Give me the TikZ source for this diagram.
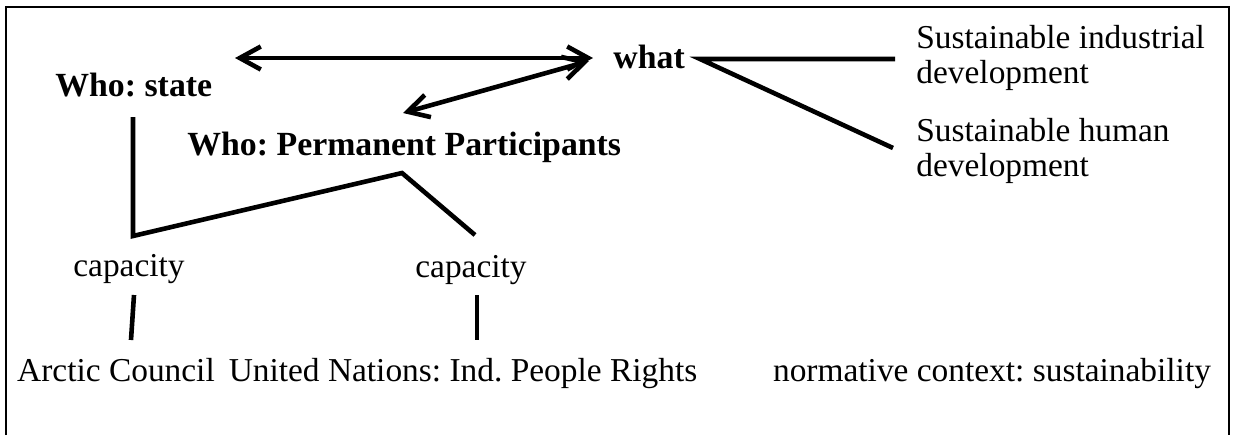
\documentclass[tikz,border=0pt]{standalone}
\usepackage{fontspec}
\setmainfont{Liberation Serif}
\usetikzlibrary{arrows.meta}
\frenchspacing

\begin{document}
\begin{tikzpicture}[x=0.5pt, y=-0.5pt,
    lbl/.style={inner sep=0pt, font=\fontsize{16.7}{17.5}\selectfont},
    hd/.style={inner sep=0pt, font=\fontsize{16.9}{17.5}\selectfont\bfseries},
    link/.style={line width=2.3pt, line join=miter},
    dbl/.style={link, {Straight Barb[length=10.5pt,width=11.5pt]}-{Straight Barb[length=10.5pt,width=11.5pt]}}]
    \useasboundingbox (0,0) rectangle (1233,435);
    \draw[line width=1pt] (6,435) -- (6,7) -- (1229,7) -- (1229,435);
    % who / what
    \node[hd, anchor=base west] (state) at (55,96) {Who: state};
    \node[hd, anchor=base west] (what) at (613,68) {what};
    \node[hd, anchor=base west] (pp) at (187,155) {Who: Permanent Participants};
    \node[lbl, anchor=base west, align=left] (ind) at (916,83) {Sustainable industrial\\development};
    \node[lbl, anchor=base west, align=left] (hum) at (916,176) {Sustainable human\\development};
    % capacity and context
    \node[lbl, anchor=base] (cap1) at (129,276) {capacity};
    \node[lbl, anchor=base] (cap2) at (471,277) {capacity};
    \node[lbl, anchor=base] (arctic) at (116,381) {Arctic Council};
    \node[lbl, anchor=base] (un) at (463,381) {United Nations: Ind. People Rights};
    \node[lbl, anchor=base] (norm) at (992,381) {normative context: sustainability};
    % connector ends
    \coordinate (stateArr) at (235,58);
    \coordinate (whatArr) at (593,58);
    \coordinate (ppArr) at (403,113);
    \coordinate (whatArr2) at (589,61);
    \coordinate (fork) at (700,59);
    \coordinate (indEnd) at (895,59);
    \coordinate (humEnd) at (893,148);
    \coordinate (stateTop) at (133,117);
    \coordinate (corner) at (133,236);
    \coordinate (peak) at (402,173);
    \coordinate (cap2Top) at (475,235);
    \draw[dbl] (stateArr) -- (whatArr);
    \draw[dbl] (ppArr) -- (whatArr2);
    \draw[link] (indEnd) -- (fork) -- (humEnd);
    \draw[link] (stateTop) -- (corner) -- (peak) -- (cap2Top);
    \draw[link] (134,295) -- (131,340);
    \draw[link] (477,295) -- (477,340);
\end{tikzpicture}
\end{document}
